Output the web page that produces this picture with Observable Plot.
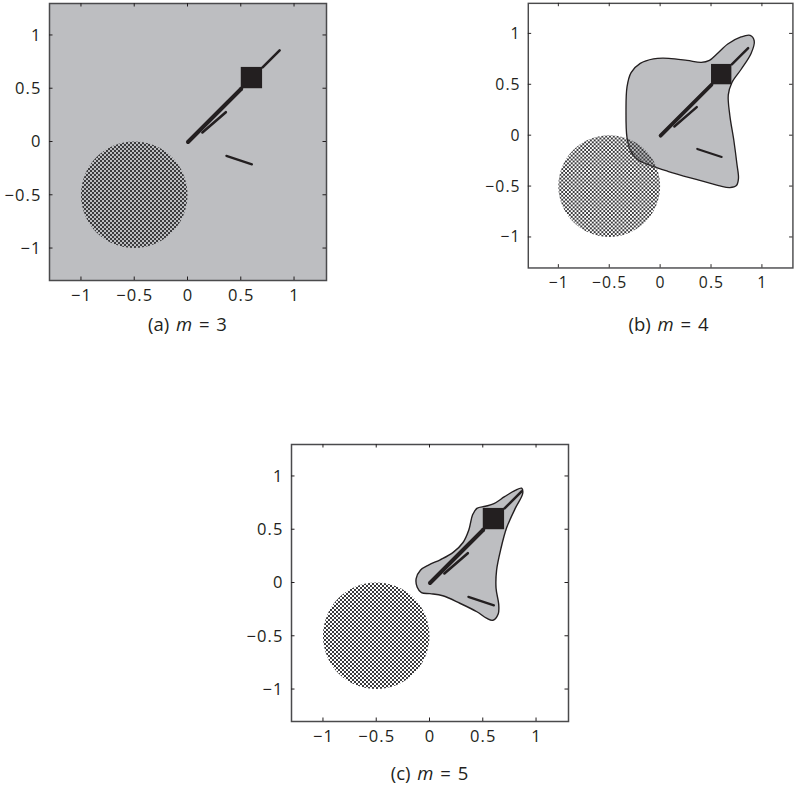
<!DOCTYPE html>
<html>
<head>
<meta charset="utf-8">
<script src="https://cdn.jsdelivr.net/npm/d3@7"></script>
<script src="https://cdn.jsdelivr.net/npm/@observablehq/plot@0.6"></script>
<style>
html, body { margin: 0; padding: 0; background: #fff; }
#root { position: relative; width: 802px; height: 788px; overflow: hidden; font-family: "Open Sans", sans-serif; color: #231f20; }
.panel { position: absolute; }
.panel svg { display: block; overflow: visible; }
.panel svg text { letter-spacing: 1.1px; }
.cap { position: absolute; font-size: 18.5px; line-height: 20px; white-space: nowrap; transform: translateX(-50%); word-spacing: 2px; }
</style>
</head>
<body>
<div id="root"></div>
<script>
// ---- data ----
const ticks = [-1, -0.5, 0, 0.5, 1];
const tickLabels = ["\u22121", "\u22120.5", "0", "0.5", "1"];
const axisLimits = [-1.3, 1.3];

const obstacleCenter = [-0.5, -0.5];
const obstacleRadius = 0.5;

const squareX = [0.5, 0.7];
const squareY = [0.5, 0.7];

const armInner = [[0, 0, 0.5, 0.5]];
const armOuter = [[0.7, 0.7, 0.86, 0.86]];
const linkShort = [[0.135, 0.09, 0.355, 0.28]];
const linkLower = [[0.36, -0.13, 0.6, -0.21]];

const regionM4 = [
  [-0.33, -0.02], [-0.34, 0.25], [-0.33, 0.48], [-0.29, 0.62], [-0.2, 0.71],
  [-0.07, 0.755], [0.08, 0.76], [0.26, 0.74], [0.40, 0.72], [0.48, 0.74],
  [0.55, 0.80], [0.66, 0.90], [0.79, 0.97], [0.88, 0.985], [0.92, 0.93],
  [0.89, 0.81], [0.79, 0.65], [0.70, 0.52], [0.665, 0.40], [0.68, 0.20],
  [0.72, -0.05], [0.75, -0.28], [0.765, -0.42], [0.745, -0.49], [0.68, -0.51],
  [0.57, -0.49], [0.35, -0.43], [0.07, -0.35], [-0.11, -0.29], [-0.22, -0.24],
  [-0.29, -0.16]
];

const regionM5 = [
  [-0.12, -0.04], [-0.13, 0.04], [-0.09, 0.12], [-0.01, 0.17], [0.10, 0.22],
  [0.22, 0.29], [0.31, 0.38], [0.365, 0.50], [0.40, 0.64], [0.44, 0.70],
  [0.52, 0.72], [0.60, 0.745], [0.70, 0.81], [0.80, 0.87], [0.86, 0.89],
  [0.87, 0.84], [0.80, 0.70], [0.72, 0.52], [0.665, 0.32], [0.625, 0.12],
  [0.62, -0.05], [0.645, -0.20], [0.64, -0.29], [0.59, -0.35], [0.53, -0.33],
  [0.44, -0.27], [0.28, -0.19], [0.12, -0.12], [0.0, -0.10], [-0.08, -0.09]
];

const panelIds = ["a", "b", "c"];
const panelM = [3, 4, 5];
const panelRegions = [null, regionM4, regionM5];

// ---- layout / style ----
const GRAY = "#bdbec1";
const INK = "#231f20";
const CHECK = "#3b3b3d";
const mL = 49, mR = 10, mT = 3, mB = 40, inner = 277;
const panelPos = [[0, 0], [481, 0], [242, 441]];
const capPos = [[187.5, 314], [668.5, 314], [429.5, 763]];

const root = document.getElementById("root");

panelIds.forEach((id, i) => {
  const pid = "checker-" + id;
  const region = panelRegions[i];

  const defs = () => {
    const d = d3.create("svg:defs");
    const p = d.append("pattern").attr("id", pid)
      .attr("patternUnits", "userSpaceOnUse").attr("width", 4).attr("height", 4);
    p.append("rect").attr("width", 2).attr("height", 2).attr("fill", CHECK).attr("shape-rendering", "crispEdges");
    p.append("rect").attr("x", 2).attr("y", 2).attr("width", 2).attr("height", 2).attr("fill", CHECK).attr("shape-rendering", "crispEdges");
    return d.node();
  };

  const obstacle = (index, scales) => {
    const cx = scales.x(obstacleCenter[0]);
    const cy = scales.y(obstacleCenter[1]);
    const rx = Math.abs(scales.x(obstacleCenter[0] + obstacleRadius) - cx);
    const ry = Math.abs(scales.y(obstacleCenter[1] + obstacleRadius) - cy);
    return d3.create("svg:ellipse")
      .attr("cx", cx).attr("cy", cy).attr("rx", rx).attr("ry", ry)
      .attr("fill", `url(#${pid})`).node();
  };

  const innerTicks = (index, scales, values, dims) => {
    const x0 = dims.marginLeft, x1 = dims.width - dims.marginRight;
    const y0 = dims.marginTop, y1 = dims.height - dims.marginBottom;
    const g = d3.create("svg:g").attr("stroke", INK).attr("stroke-width", 1);
    const L = 3.5;
    for (const t of ticks) {
      const x = scales.x(t), y = scales.y(t);
      g.append("line").attr("x1", x).attr("x2", x).attr("y1", y1).attr("y2", y1 - L);
      g.append("line").attr("x1", x).attr("x2", x).attr("y1", y0).attr("y2", y0 + L);
      g.append("line").attr("y1", y).attr("y2", y).attr("x1", x0).attr("x2", x0 + L);
      g.append("line").attr("y1", y).attr("y2", y).attr("x1", x1).attr("x2", x1 - L);
    }
    return g.node();
  };

  const linkOpts = (w) => ({
    x1: d => d[0], y1: d => d[1], x2: d => d[2], y2: d => d[3],
    stroke: INK, strokeWidth: w, strokeLinecap: "round"
  });

  const fmt = d => tickLabels[ticks.indexOf(d)];

  const marks = [defs];
  if (!region) marks.push(Plot.frame({fill: GRAY}));
  if (region) marks.push(Plot.line(region, {
    x: d => d[0], y: d => d[1], curve: "catmull-rom-closed",
    fill: GRAY, stroke: INK, strokeWidth: 1.4
  }));
  marks.push(obstacle);
  marks.push(Plot.link(armInner, linkOpts(4)));
  marks.push(Plot.link(armOuter, linkOpts(2.6)));
  marks.push(Plot.link(linkShort, linkOpts(2.6)));
  marks.push(Plot.link(linkLower, linkOpts(2.2)));
  marks.push(Plot.rect([{}], {x1: () => squareX[0], x2: () => squareX[1], y1: () => squareY[0], y2: () => squareY[1], fill: INK}));
  marks.push(Plot.frame({stroke: "#4a4a4c", strokeWidth: 1.5}));
  marks.push(innerTicks);
  marks.push(Plot.axisX(ticks, {anchor: "bottom", tickSize: 0, tickPadding: 9, tickFormat: fmt, fontSize: 16.5, fill: INK, fontFamily: "Open Sans"}));
  marks.push(Plot.axisY(ticks, {anchor: "left", tickSize: 0, tickPadding: 8, tickFormat: fmt, fontSize: 16.5, fill: INK, fontFamily: "Open Sans"}));

  const chart = Plot.plot({
    width: mL + inner + mR,
    height: mT + inner + mB,
    marginLeft: mL, marginRight: mR, marginTop: mT, marginBottom: mB,
    style: {fontFamily: "'Open Sans', sans-serif", fontSize: "16.5px", color: INK, background: "transparent", overflow: "visible"},
    x: {domain: axisLimits, label: null},
    y: {domain: axisLimits, label: null},
    marks
  });

  const div = document.createElement("div");
  div.className = "panel";
  div.style.left = panelPos[i][0] + "px";
  div.style.top = panelPos[i][1] + "px";
  div.appendChild(chart);
  root.appendChild(div);

  const cap = document.createElement("div");
  cap.className = "cap";
  cap.style.left = capPos[i][0] + "px";
  cap.style.top = capPos[i][1] + "px";
  cap.innerHTML = `(${id}) <i>m</i> = ${panelM[i]}`;
  root.appendChild(cap);
});
</script>
</body>
</html>
